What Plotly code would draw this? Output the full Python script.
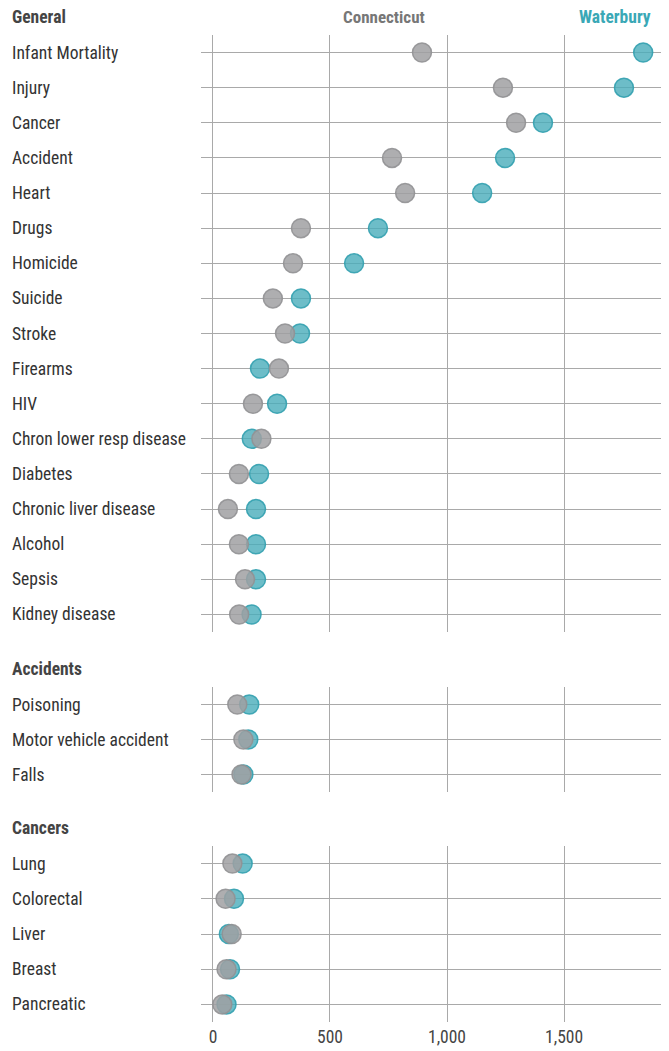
import plotly.graph_objects as go
from plotly.subplots import make_subplots

general_labels = ["Infant Mortality", "Injury", "Cancer", "Accident", "Heart", "Drugs",
                  "Homicide", "Suicide", "Stroke", "Firearms", "HIV",
                  "Chron lower resp disease", "Diabetes", "Chronic liver disease",
                  "Alcohol", "Sepsis", "Kidney disease"]
general_ct = [893, 1239, 1295, 765, 821, 376, 342, 256, 308, 282, 171, 207, 111, 64, 111, 137, 112]
general_wb = [1838, 1756, 1410, 1248, 1150, 705, 603, 376, 372, 201, 274, 166, 197, 184, 184, 184, 165]

accident_labels = ["Poisoning", "Motor vehicle accident", "Falls"]
accident_ct = [104, 130, 122]
accident_wb = [155, 151, 130]

cancer_labels = ["Lung", "Colorectal", "Liver", "Breast", "Pancreatic"]
cancer_ct = [83, 54, 80, 58, 40]
cancer_wb = [127, 90, 68, 73, 58]

section_titles = ["General", "Accidents", "Cancers"]
x_ticks = [0, 500, 1000, 1500]

FONT = "Roboto Condensed, Liberation Sans Narrow, DejaVu Sans Condensed, Roboto, sans-serif"
GRAY = "rgba(160,160,162,0.85)"
GRAY_LINE = "rgba(145,145,147,0.9)"
TEAL = "rgba(72,172,186,0.8)"
TEAL_LINE = "rgba(50,160,175,0.9)"
GRID = "#a9a9a9"

sections = [
    (general_labels, general_ct, general_wb),
    (accident_labels, accident_ct, accident_wb),
    (cancer_labels, cancer_ct, cancer_wb),
]

# page body margin offsets the figure by 8px; compensate
OFF = 8
W, H = 669, 1051
mt = 35 - OFF
mb = H - (1022 - OFF)
ml = 201 - OFF
mr = W - (664 - OFF)
plot_h = H - mt - mb
plot_w = W - ml - mr
px_spans = [(35, 632), (687, 792), (846, 1022)]


def py(screen_y):
    return (H - mb - (screen_y - OFF)) / plot_h


def px(screen_x):
    return ((screen_x - OFF) - ml) / plot_w


fig = make_subplots(rows=3, cols=1, shared_xaxes=True)

for i, (labels, ct, wb) in enumerate(sections, start=1):
    fig.add_trace(go.Scatter(
        x=wb, y=labels, mode="markers", name="Waterbury",
        marker=dict(size=19, color=TEAL, line=dict(color=TEAL_LINE, width=1.5)),
        showlegend=False, hoverinfo="x+y"), row=i, col=1)
    fig.add_trace(go.Scatter(
        x=ct, y=labels, mode="markers", name="Connecticut",
        marker=dict(size=19, color=GRAY, line=dict(color=GRAY_LINE, width=1.5)),
        showlegend=False, hoverinfo="x+y"), row=i, col=1)
    n = len(labels)
    top, bot = px_spans[i - 1]
    yk = "yaxis" if i == 1 else f"yaxis{i}"
    xk = "xaxis" if i == 1 else f"xaxis{i}"
    fig.layout[yk].update(
        type="category", categoryorder="array", categoryarray=labels,
        range=[n - 0.5, -0.5], domain=[py(bot), py(top)],
        showgrid=True, gridcolor=GRID, gridwidth=1,
        showticklabels=False, ticks="", zeroline=False, showline=False)
    fig.layout[xk].update(
        range=[-51, 1927], tickvals=x_ticks, tickformat=",",
        showgrid=True, gridcolor=GRID, gridwidth=1, zeroline=False,
        showline=False, ticks="", showticklabels=(i == 3), ticklabelstandoff=2,
        tickfont=dict(family=FONT, size=17.5, color="#444"))
    yref = "y" if i == 1 else f"y{i}"
    for lab in labels:
        fig.add_annotation(x=px(10), xref="paper", xanchor="left",
                           y=lab, yref=yref, yanchor="middle", text=lab, showarrow=False,
                           font=dict(family=FONT, size=17.5, color="#333"))
    fig.add_annotation(x=px(10), xref="paper", xanchor="left",
                       y=py(top - 18), yref="paper", yanchor="middle",
                       text="<b>" + section_titles[i - 1] + "</b>", showarrow=False,
                       font=dict(family=FONT, size=17.5, color="#444"))

fig.add_annotation(x=px(384), xref="paper", xanchor="center",
                   y=py(17), yref="paper", yanchor="middle", text="<b>Connecticut</b>",
                   showarrow=False, font=dict(family=FONT, size=17, color="#777"))
fig.add_annotation(x=px(653), xref="paper", xanchor="right",
                   y=py(17), yref="paper", yanchor="middle", text="<b>Waterbury</b>",
                   showarrow=False, font=dict(family=FONT, size=17.5, color="#3aa8b6"))

fig.update_layout(
    width=W, height=H,
    margin=dict(l=ml, r=mr, t=mt, b=mb, autoexpand=False),
    plot_bgcolor="white", paper_bgcolor="white",
    font=dict(family=FONT),
    showlegend=False,
)

fig.write_html("out.html")
